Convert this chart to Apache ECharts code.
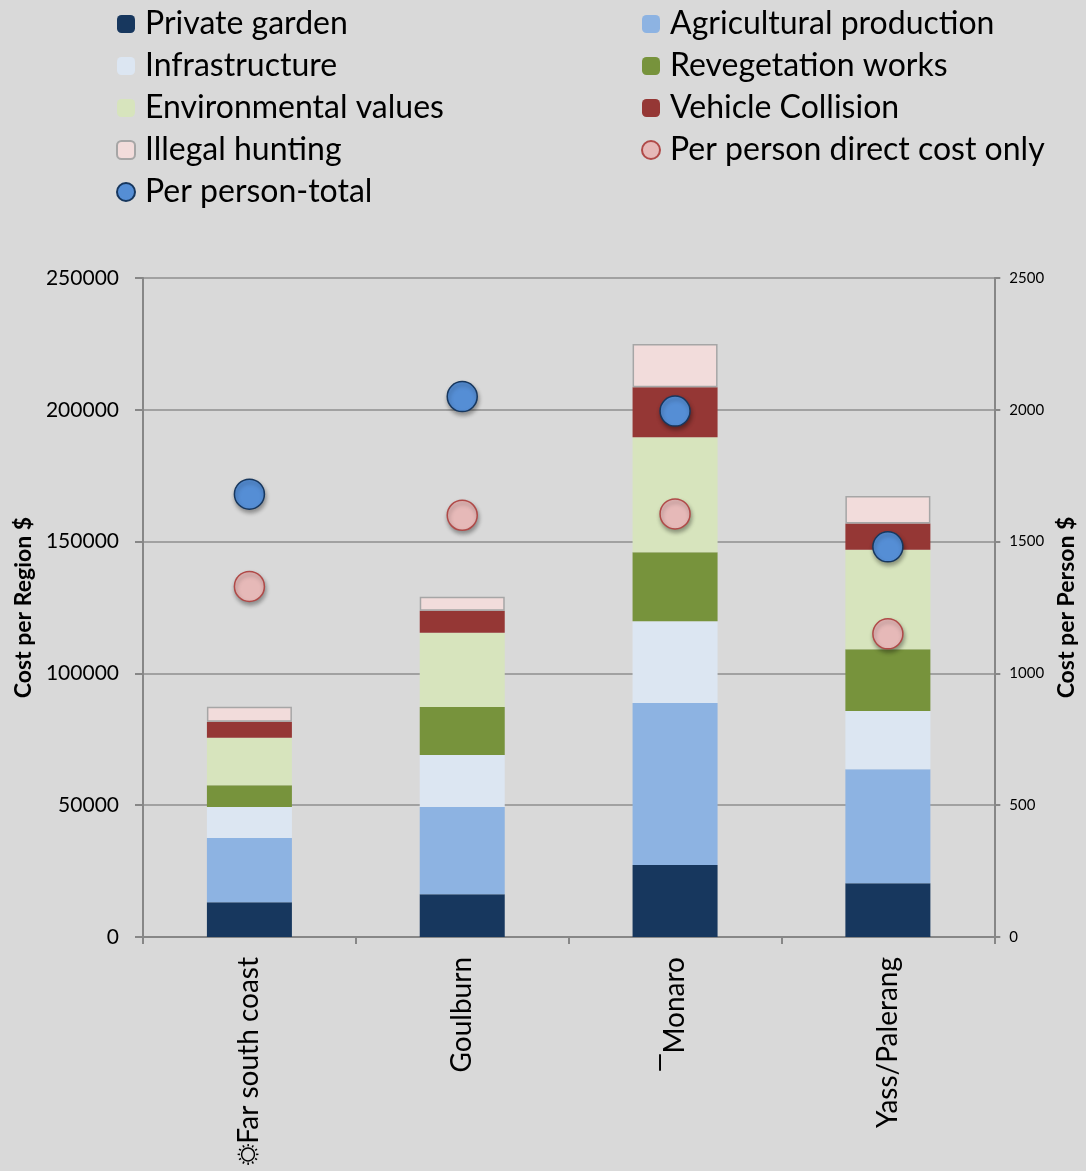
<!DOCTYPE html>
<html>
<head>
<meta charset="utf-8">
<script src="https://cdn.jsdelivr.net/npm/echarts@6/dist/echarts.min.js"></script>
<style>
html,body{margin:0;padding:0;background:#d9d9d9;}
#chart{width:1086px;height:1171px;}
</style>
</head>
<body>
<div id="chart"></div>
<script>
const categories = ['☼Far south coast', 'Goulburn', '‾Monaro', 'Yass/Palerang'];
const privateGarden = [13150, 16200, 27300, 20400];
const agricultural = [24400, 33100, 61500, 43200];
const infrastructure = [11800, 19700, 31000, 22100];
const revegetation = [8200, 18300, 26200, 23500];
const environmental = [18000, 28100, 43600, 37700];
const vehicle = [6100, 8400, 19000, 10000];
const illegal = [5700, 5300, 16400, 10400];
const perPersonTotal = [1680, 2050, 1995, 1480];
const perPersonDirect = [1330, 1600, 1605, 1150];
const leftTicks = [0, 50000, 100000, 150000, 200000, 250000];
const rightTicks = [0, 500, 1000, 1500, 2000, 2500];

const FONT = 'Lato, "Noto Sans", sans-serif';
const chart = echarts.init(document.getElementById('chart'));

function bar(name, data, color, extra) {
  return Object.assign({
    name: name, type: 'bar', stack: 'cost', data: data, barWidth: 85,
    itemStyle: {color: color}, emphasis: {disabled: true}
  }, extra || {});
}
const dotShadow = {opacity: 1, shadowBlur: 4, shadowOffsetX: 1, shadowOffsetY: 3, shadowColor: 'rgba(0,0,0,0.35)'};

const legendText = {fontSize: 32, color: '#000', fontFamily: FONT, lineHeight: 30, padding: [0, 0, 0, 5]};
chart.setOption({
  backgroundColor: '#d9d9d9',
  animation: false,
  textStyle: {fontFamily: FONT},
  legend: [
    {left: 111, top: 3, orient: 'vertical', itemWidth: 18, itemHeight: 18, itemGap: 10,
     textStyle: legendText,
     data: ['Private garden', 'Infrastructure', 'Environmental values', 'Illegal hunting', 'Per person-total']},
    {left: 636, top: 3, orient: 'vertical', itemWidth: 18, itemHeight: 18, itemGap: 10,
     textStyle: legendText,
     data: ['Agricultural production', 'Revegetation works', 'Vehicle Collision', 'Per person direct cost only']}
  ],
  grid: {left: 143, right: 91, top: 278, bottom: 234},
  xAxis: {
    type: 'category', data: categories, boundaryGap: true,
    axisLine: {lineStyle: {color: '#878787', width: 2}},
    axisTick: {show: true, alignWithLabel: false, length: 7, lineStyle: {color: '#878787', width: 2}},
    axisLabel: {rotate: 90, fontSize: 28, color: '#000', margin: 20, fontFamily: FONT}
  },
  yAxis: [
    {type: 'value', min: leftTicks[0], max: leftTicks[leftTicks.length - 1], interval: 50000,
     name: 'Cost per Region $', nameLocation: 'middle', nameRotate: 90, nameGap: 100,
     nameTextStyle: {fontSize: 23, fontWeight: 'bold', color: '#000', fontFamily: FONT},
     axisLine: {show: true, lineStyle: {color: '#878787', width: 2}},
     axisTick: {show: true, length: 8, lineStyle: {color: '#878787', width: 2}},
     axisLabel: {fontSize: 21, color: '#000', margin: 24, fontFamily: FONT, formatter: v => String(v)},
     splitLine: {show: true, lineStyle: {color: '#8e8e8e', width: 1.5}}},
    {type: 'value', min: rightTicks[0], max: rightTicks[rightTicks.length - 1], interval: 500,
     name: 'Cost per Person $', nameLocation: 'middle', nameRotate: 90, nameGap: 60,
     nameTextStyle: {fontSize: 23, fontWeight: 'bold', color: '#000', fontFamily: FONT},
     axisLine: {show: true, lineStyle: {color: '#878787', width: 2}},
     axisTick: {show: true, length: 6, lineStyle: {color: '#878787', width: 2}},
     axisLabel: {fontSize: 15, color: '#000', margin: 15, fontFamily: FONT, formatter: v => String(v)},
     splitLine: {show: false}}
  ],
  series: [
    bar('Private garden', privateGarden, '#17375e'),
    bar('Agricultural production', agricultural, '#8db3e2'),
    bar('Infrastructure', infrastructure, '#dce6f2'),
    bar('Revegetation works', revegetation, '#77933c'),
    bar('Environmental values', environmental, '#d7e4bd'),
    bar('Vehicle Collision', vehicle, '#953735'),
    bar('Illegal hunting', illegal, '#f2dcdb', {itemStyle: {color: '#f2dcdb', borderColor: '#a6a6a6', borderWidth: 1.5}}),
    {name: 'Per person direct cost only', type: 'scatter', yAxisIndex: 1, data: perPersonDirect,
     symbol: 'circle', symbolSize: 30, z: 5,
     itemStyle: Object.assign({color: '#e6b9b8', borderColor: '#b04a48', borderWidth: 1.5}, dotShadow)},
    {name: 'Per person-total', type: 'scatter', yAxisIndex: 1, data: perPersonTotal,
     symbol: 'circle', symbolSize: 30, z: 5,
     itemStyle: Object.assign({color: '#558ed5', borderColor: '#17375e', borderWidth: 1.5}, dotShadow)}
  ]
});
</script>
</body>
</html>
